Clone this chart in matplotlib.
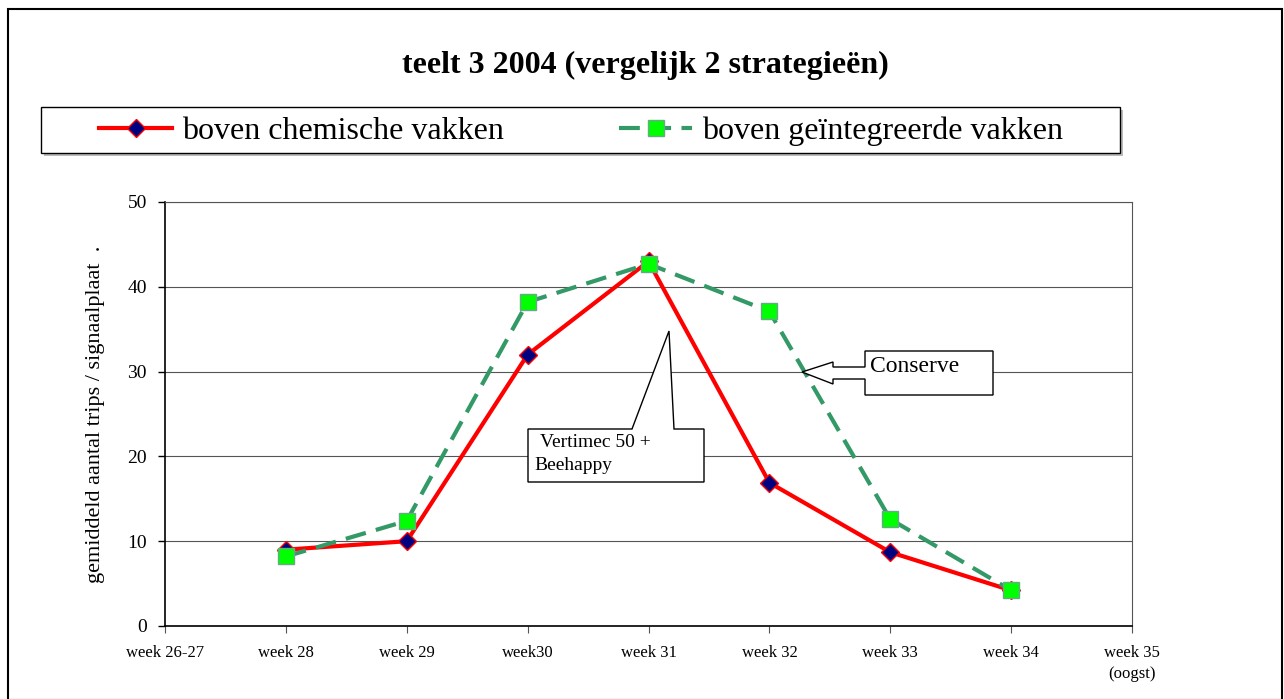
import matplotlib
matplotlib.use("Agg")
import matplotlib.pyplot as plt
from matplotlib.patches import Rectangle, Polygon
from matplotlib.lines import Line2D

weeks = ["week 26-27", "week 28", "week 29", "week30", "week 31",
         "week 32", "week 33", "week 34", "week 35\n(oogst)"]
# series start at week 28 (index 1)
chemisch = [9.0, 10.0, 32.0, 43.0, 16.9, 8.7, 4.2]
geintegreerd = [8.2, 12.4, 38.2, 42.7, 37.1, 12.6, 4.2]
x_pos = list(range(1, 1 + len(chemisch)))

W, H = 1284, 699
plt.rcParams['font.family'] = ['Liberation Serif', 'DejaVu Serif']

fig = plt.figure(figsize=(W / 100, H / 100), dpi=100)


def px(x, y):
    # pixel position (from top-left) -> figure fraction
    return (x / W, 1 - y / H)


ax = fig.add_axes([165 / W, 1 - 626 / H, (1132 - 165) / W, (626 - 202) / H])

ax.plot(x_pos, chemisch, color="#FF0000", lw=3, marker="D", markersize=9,
        markerfacecolor="#000080", markeredgecolor="#FF0000", markeredgewidth=1,
        zorder=4)
ax.plot(x_pos, geintegreerd, color="#339966", lw=3, dashes=(5, 2.5),
        marker="s", markersize=11, markerfacecolor="#00FF00",
        markeredgecolor="#66AA88", markeredgewidth=1, zorder=5)

ax.set_xlim(0, len(weeks) - 1)
ax.set_ylim(0, 50)
ax.set_yticks([0, 10, 20, 30, 40, 50])
ax.set_xticks(range(len(weeks)))
ax.set_xticklabels(weeks, fontsize=12, linespacing=1.4)
ax.tick_params(axis="y", labelsize=14, direction="out", length=5, width=1, pad=8)
ax.tick_params(axis="x", direction="out", length=5, width=0.8, color="#555555", pad=9)
ax.grid(axis="y", color="#555555", lw=0.8)
ax.set_axisbelow(True)
for s in ["top", "right"]:
    ax.spines[s].set_color("#555555")
    ax.spines[s].set_linewidth(0.8)
ax.spines["left"].set_linewidth(1.2)
ax.spines["bottom"].set_linewidth(1.2)
ax.set_ylabel("gemiddeld aantal trips / signaalplaat  .", fontsize=16, labelpad=16)

# outer chart frame
fig.patches.append(Rectangle(px(8, 700), (1282 - 8) / W, (700 - 9) / H,
                             transform=fig.transFigure, fill=False,
                             edgecolor="black", lw=1.5))

fig.text(*px(645, 65), "teelt 3 2004 (vergelijk 2 strategieën)",
         ha="center", va="center", fontsize=23, fontweight="bold")

# legend frame with shadow
fig.patches.append(Rectangle(px(44, 156), (1123 - 44) / W, (156 - 110) / H,
                             transform=fig.transFigure, facecolor="#BBBBBB",
                             edgecolor="none"))
fig.patches.append(Rectangle(px(41, 153), (1120 - 41) / W, (153 - 107) / H,
                             transform=fig.transFigure, facecolor="white",
                             edgecolor="black", lw=1))
handles = [
    Line2D([], [], color="#FF0000", lw=3, marker="D", markersize=9,
           markerfacecolor="#000080", markeredgecolor="#FF0000"),
    Line2D([], [], color="#339966", lw=3, dashes=(5, 2.5), marker="s",
           markersize=11, markerfacecolor="#00FF00", markeredgecolor="#66AA88"),
]
fig.legend(handles, ["boven chemische vakken", "boven geïntegreerde vakken"],
           loc="center", bbox_to_anchor=px(581, 131), ncol=2, frameon=False,
           fontsize=23, handlelength=2.3, handletextpad=0.3, columnspacing=3.6)

# callout: Vertimec 50 + Beehappy
verti = [(528, 429), (632, 429), (669, 331), (674, 429), (704, 429),
         (704, 482), (528, 482)]
fig.patches.append(Polygon([px(*p) for p in verti], closed=True,
                           transform=fig.transFigure, facecolor="white",
                           edgecolor="black", lw=1, zorder=3))
fig.text(*px(540, 442), "Vertimec 50 +", fontsize=14, va="center", ha="left")
fig.text(*px(534, 465), "Beehappy", fontsize=14, va="center", ha="left")

# callout: Conserve
cons = [(865, 351), (993, 351), (993, 395), (865, 395), (865, 379), (833, 379),
        (833, 384), (802, 372), (833, 362), (833, 367), (865, 367)]
fig.patches.append(Polygon([px(*p) for p in cons], closed=True,
                           transform=fig.transFigure, facecolor="white",
                           edgecolor="black", lw=1, zorder=3))
fig.text(*px(870, 367), "Conserve", fontsize=17, va="center", ha="left")

fig.savefig("out.png", dpi=100)
